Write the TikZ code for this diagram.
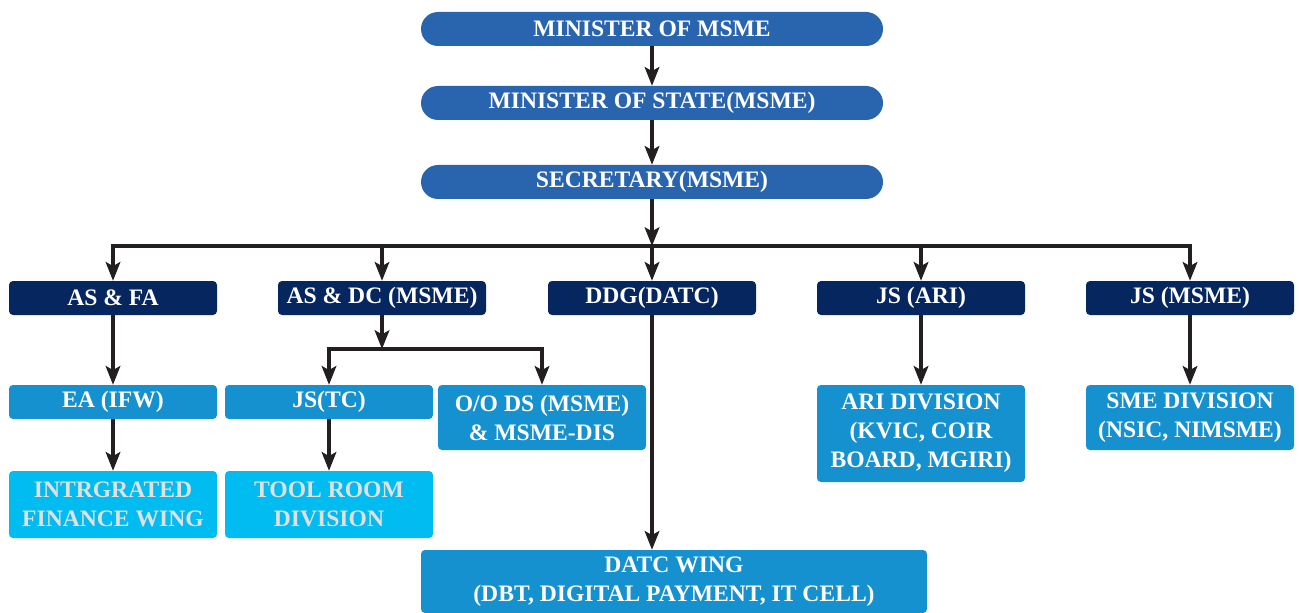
\documentclass[tikz,border=0pt]{standalone}
\usepackage{fontspec}
\setmainfont{Liberation Serif}
\usepackage{tikz}
\usetikzlibrary{arrows.meta,graphs}

\definecolor{topblue}{HTML}{2964AF}
\definecolor{navy}{HTML}{06265F}
\definecolor{midblue}{HTML}{1591D0}
\definecolor{lightcyan}{HTML}{00BCF0}
\definecolor{arrowgray}{HTML}{231F20}

\tikzset{
	box/.style={rectangle, rounded corners=3pt, minimum width=156pt, minimum height=25.5pt, inner sep=0pt, align=center, text=white, font=\fontsize{17.7}{21.75}\selectfont\bfseries},
	pill/.style={box, fill=topblue, minimum width=346.5pt, rounded corners=12.75pt},
	head/.style={box, fill=navy},
	unit/.style={box, fill=midblue},
	wing/.style={box, fill=lightcyan, text=white!88!black},
	link/.style={draw=arrowgray, line width=2.4pt},
}

\begin{document}
\begin{tikzpicture}[x=0.75pt, y=-0.75pt, >={Stealth[length=14pt,width=11pt,inset=3pt]}]
		\useasboundingbox (0,0) rectangle (1299,613);
		\node (min) at (652,29) [pill] {MINISTER OF MSME};
		\node (mos) at (652,103) [pill] {MINISTER OF STATE(MSME)};
		\node (sec) at (652,182) [pill] {SECRETARY(MSME)};
		\node (asfa) at (113,298) [head] {AS \& FA};
		\node (asdc) at (382,298) [head] {AS \& DC (MSME)};
		\node (ddg) at (652,298) [head] {DDG(DATC)};
		\node (jsari) at (921,298) [head] {JS (ARI)};
		\node (jsmsme) at (1190,298) [head] {JS (MSME)};
		\node (ea) at (113,402) [unit] {EA (IFW)};
		\node (jstc) at (329,402) [unit] {JS(TC)};
		\node (ods) at (542,417.5) [unit, minimum height=48.75pt] {O/O DS (MSME)\\\& MSME-DIS};
		\node (aridiv) at (921,433.5) [unit, minimum height=72.75pt] {ARI DIVISION\\(KVIC, COIR\\BOARD, MGIRI)};
		\node (smediv) at (1190,417.5) [unit, minimum height=48.75pt] {SME DIVISION\\(NSIC, NIMSME)};
		\node (ifw) at (113,504.5) [wing, minimum height=50.25pt] {INTRGRATED\\FINANCE WING};
		\node (toolroom) at (329,504.5) [wing, minimum height=50.25pt] {TOOL ROOM\\DIVISION};
		\node (datc) at (674,581.5) [unit, minimum width=379.5pt, minimum height=47.25pt] {DATC WING\\(DBT, DIGITAL PAYMENT, IT CELL)};
		\coordinate (bus) at (652,246);
		\coordinate (subbus) at (382,349);
		\coordinate (datctop) at (ddg.south |- datc.north);
		
		\graph[edges=link] {
			(min) -> (mos) -> (sec) -> (bus);
			(asdc) -> (subbus);
			(asfa) -> (ea) -> (ifw);
			(jstc) -> (toolroom);
			(jsari) -> (aridiv);
			(jsmsme) -> (smediv);
			(ddg) -> (datctop);
		};
		\foreach \n in {asfa,asdc,ddg,jsari,jsmsme}
			\draw[link, ->] (bus) -| (\n);
		\draw[link, ->] (subbus) -| (jstc);
		\draw[link, ->] (subbus) -| (ods);
	\end{tikzpicture}
\end{document}
